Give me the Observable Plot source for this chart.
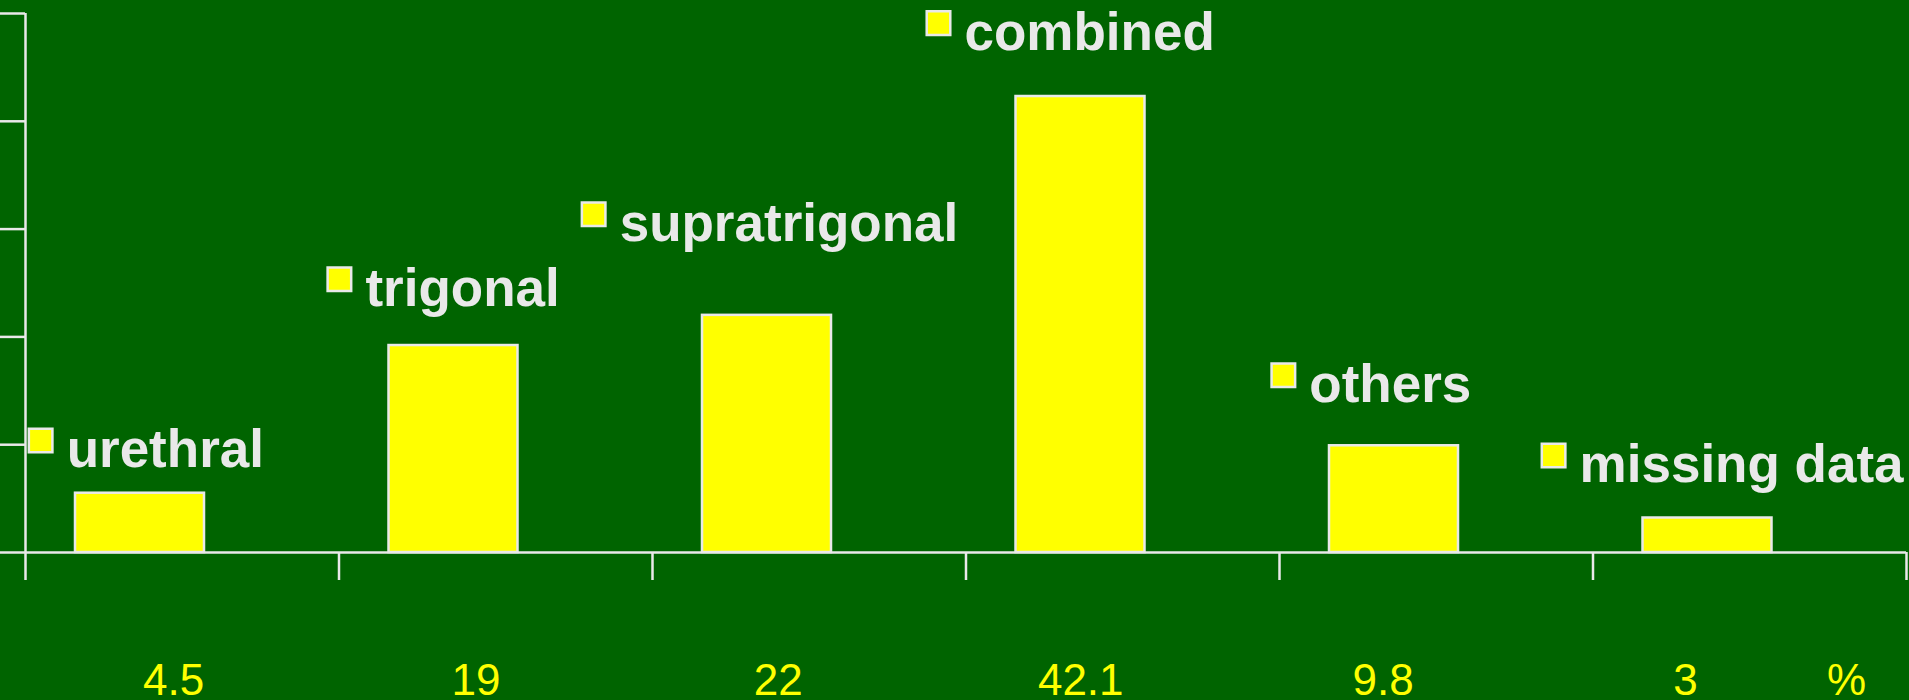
<!DOCTYPE html>
<html>
<head>
<meta charset="utf-8">
<script src="https://cdn.jsdelivr.net/npm/d3@7"></script>
<script src="https://cdn.jsdelivr.net/npm/@observablehq/plot@0.6"></script>
<style>
  html, body { margin: 0; padding: 0; background: #006400; }
  #chart svg { display: block; }
</style>
</head>
<body>
<div id="chart"></div>
<script>
// ---- data ----
const categories = ["urethral", "trigonal", "supratrigonal", "combined", "others", "missing data"];
const barValues = [5.5, 19.2, 22.0, 42.3, 9.9, 3.2];        // bar heights
const valueLabels = ["4.5", "19", "22", "42.1", "9.8", "3"]; // printed percentages
const unitLabel = "%";
const yTicks = [0, 10, 20, 30, 40, 50];
const xTicks = [0, 1, 2, 3, 4, 5, 6];

// ---- annotation layout (in scale units) ----
const labelOffsetX = [0.01, -0.037, -0.226, -0.126, -0.026, -0.164];
const labelBaseline = [7.89, 22.84, 28.88, 46.6, 13.93, 6.5];

const rows = categories.map((c, i) => ({i, category: c, value: barValues[i], label: valueLabels[i],
  lx: i + labelOffsetX[i], ly: labelBaseline[i]}));

const grey = "#e9e9e9";
const yellow = "#ffff00";
const font = "'Liberation Sans', Arial, sans-serif";

const valueStart = 0.469, valueStep = 0.9646, unitX = 5.809;

const chart = Plot.plot({
  width: 1909,
  height: 700,
  marginLeft: 25,
  marginRight: 3,
  marginTop: 13,
  marginBottom: 148,
  style: {background: "#006400", fontFamily: font, overflow: "visible"},
  x: {type: "linear", domain: [0, 6], axis: null},
  y: {domain: [0, 50], axis: null},
  marks: [
    Plot.rect(rows, {x1: "i", x2: d => d.i + 1, y1: 0, y2: "value",
      insetLeft: 50, insetRight: 134.5, fill: yellow, stroke: grey, strokeWidth: 2.5}),
    Plot.ruleY([0], {stroke: grey, strokeWidth: 2.5}),
    Plot.ruleX([0], {y1: 0, y2: 50, stroke: grey, strokeWidth: 2.5}),
    Plot.axisY(yTicks, {tickSize: 25, tickFormat: () => "", label: null, stroke: grey, strokeWidth: 2.5}),
    Plot.axisX(xTicks, {tickSize: 28, tickFormat: () => "", label: null, stroke: grey, strokeWidth: 2.5}),
    // category labels with legend squares
    Plot.dot(rows, {x: "lx", y: "ly", dx: 12, dy: -27, symbol: "square", r: 13.3,
      fill: yellow, stroke: grey, strokeWidth: 2.5}),
    Plot.text(rows, {x: "lx", y: "ly", dx: 38, text: "category", textAnchor: "start", lineAnchor: "bottom",
      fill: grey, fontSize: 53, fontWeight: "bold"}),
    // percentage row
    Plot.text(rows, {x: d => valueStart + d.i * valueStep, y: 0, dy: 142, dx: 1, text: "label",
      lineAnchor: "bottom", fill: yellow, fontSize: 44, ariaLabel: "values"}),
    Plot.text([unitLabel], {x: unitX, y: 0, dy: 142, text: d => d,
      lineAnchor: "bottom", fill: yellow, fontSize: 44})
  ]
});
d3.select(chart).selectAll('g[aria-label="values"] text').style("letter-spacing", "2px");
document.getElementById("chart").appendChild(chart);
</script>
</body>
</html>
